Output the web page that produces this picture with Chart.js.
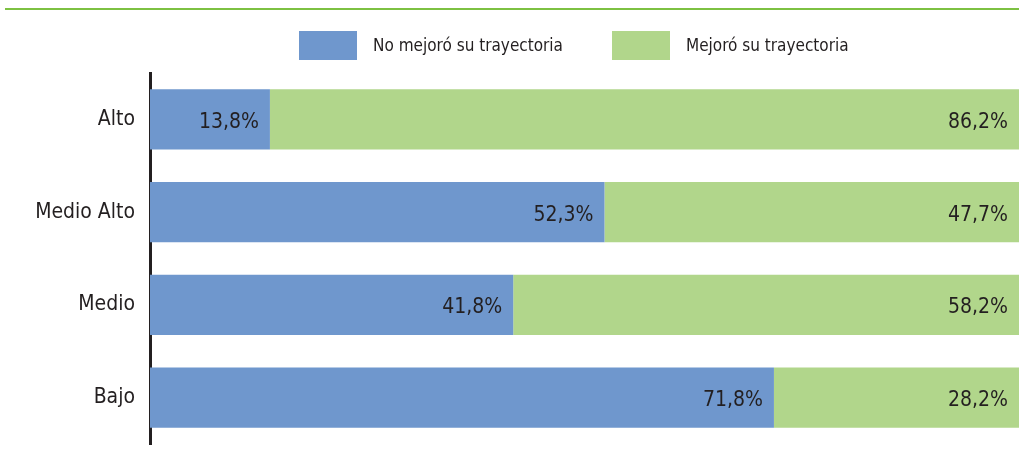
<!DOCTYPE html>
<html>
<head>
<meta charset="utf-8">
<script src="https://cdn.jsdelivr.net/npm/chart.js@4.4.1/dist/chart.umd.min.js"></script>
<style>
  body { margin: 0; background: #fff; }
  #wrap { position: relative; width: 1019px; height: 454px; overflow: hidden; }
  #topline { position: absolute; left: 5px; top: 8px; width: 1014px; height: 2px; background: #7dc142; }
  #legend { position: absolute; top: 31px; left: 299px; font-family: 'DejaVu Sans Condensed', sans-serif; font-size: 17px; color: #231f20; white-space: nowrap; }
  .item { display: inline-block; vertical-align: top; height: 29px; line-height: 29px; }
  .box { display: inline-block; width: 58px; height: 29px; vertical-align: top; margin-right: 16px; }
  #chart { position: absolute; left: 0; top: 0; }
</style>
</head>
<body>
<div id="wrap">
  <div id="topline"></div>
  <canvas id="chart" width="1019" height="454"></canvas>
  <div id="legend"></div>
</div>
<script>
// ===== data =====
let niveles = ['Alto', 'Medio Alto', 'Medio', 'Bajo'];
let noMejoro = [13.8, 52.3, 41.8, 71.8];
let mejoro = [86.2, 47.7, 58.2, 28.2];
let series = ['No mejoró su trayectoria', 'Mejoró su trayectoria'];
let colores = ['#6f97cd', '#b1d68b'];

const font = "'DejaVu Sans Condensed', sans-serif";
const ink = '#231f20';

// ===== legend (html) =====
const legend = document.getElementById('legend');
series.forEach(function(name, i){
    const item = document.createElement('span');
    item.className = 'item';
    if (i > 0) item.style.marginLeft = '49px';
    item.innerHTML = '<span class="box" style="background:' + colores[i] + '"></span>' + name;
    legend.appendChild(item);
});

// ===== value labels inside the bars =====
const barLabels = {
    id: 'barLabels',
    afterDatasetsDraw(chart){
        const ctx = chart.ctx;
        ctx.save();
        ctx.font = '21px ' + font;
        ctx.fillStyle = ink;
        ctx.textAlign = 'right';
        ctx.textBaseline = 'middle';
        chart.data.datasets.forEach(function(ds, i){
            chart.getDatasetMeta(i).data.forEach(function(bar, j){
                const txt = ds.data[j].toFixed(1).replace('.', ',') + '%';
                ctx.fillText(txt, bar.x - 11, bar.y + 3);
            });
        });
        ctx.restore();
    }
};

const ctx = document.getElementById('chart').getContext('2d');
const myChart = new Chart(ctx, {
    type: 'bar',
    data: {
        labels: niveles,
        datasets: [
            {
                label: series[0],
                data: noMejoro,
                backgroundColor: colores[0],
                barPercentage: 0.65,
                categoryPercentage: 1
            },
            {
                label: series[1],
                data: mejoro,
                backgroundColor: colores[1],
                barPercentage: 0.65,
                categoryPercentage: 1
            }
        ]
    },
    options: {
        indexAxis: 'y',
        responsive: false,
        animation: false,
        layout: {
            padding: { top: 73, bottom: 10, left: 0, right: 0 }
        },
        scales: {
            x: {
                stacked: true,
                min: 0,
                max: 100,
                display: false
            },
            y: {
                stacked: true,
                afterFit: function(scale){
                    scale.width = 150;
                    scale.paddingTop = 0;
                    scale.paddingBottom = 0;
                },
                grid: { display: false, drawTicks: false },
                border: { display: true, width: 3, color: ink },
                ticks: {
                    padding: 15,
                    color: ink,
                    font: { family: font, size: 21 }
                }
            }
        },
        plugins: {
            legend: { display: false },
            tooltip: { enabled: false }
        }
    },
    plugins: [barLabels]
});
</script>
</body>
</html>
